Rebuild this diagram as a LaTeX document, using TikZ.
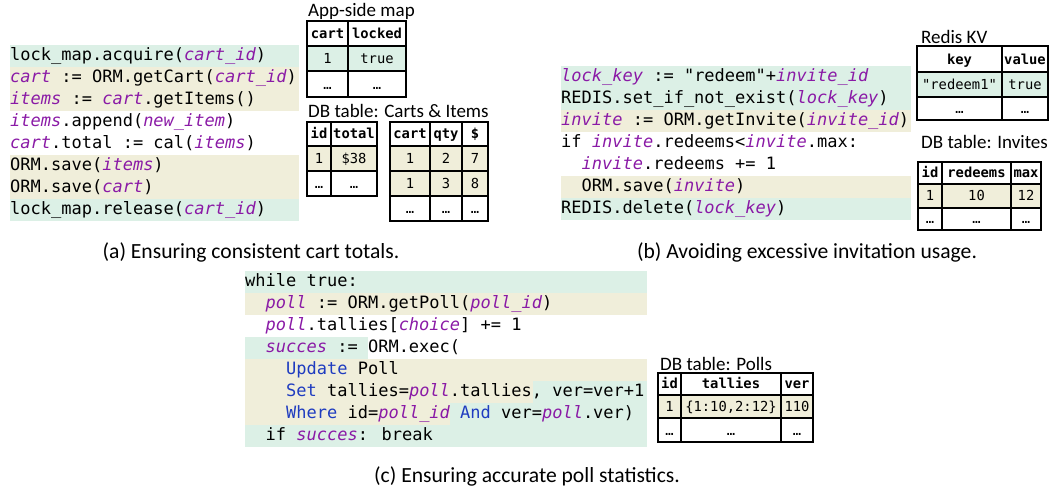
\documentclass[tikz,border=0pt]{standalone}
\usepackage{fontspec}
\usetikzlibrary{positioning}
\newfontfamily\codefam{DejaVu Sans Mono}
\newfontfamily\capfam{Carlito}
\definecolor{lockbg}{HTML}{DCF0E6}
\definecolor{ormbg}{HTML}{F0EEDA}
\definecolor{varpurple}{HTML}{8A1AA6}
\definecolor{kwblue}{HTML}{1F3CC0}
\newcommand{\cvar}[1]{{\color{varpurple}\itshape #1}}
\newcommand{\ckw}[1]{{\color{kwblue}#1}}
\newcommand{\codesize}{\codefam\fontsize{17}{22}\selectfont}
\newcommand{\cellsize}{\codefam\fontsize{13.8}{16}\selectfont}
\newcommand{\ttlsize}{\capfam\fontsize{19}{22}\selectfont}
\newcommand{\capsize}{\capfam\fontsize{21.6}{24}\selectfont}

\begin{document}
\begin{tikzpicture}[x=1pt, y=-1pt,
    code/.style={anchor=base west, inner sep=0pt, font=\codesize},
    cell/.style={anchor=base, inner sep=0pt, font=\cellsize},
    hdr/.style={anchor=base, inner sep=0pt, font=\cellsize\bfseries},
    ttl/.style={anchor=base west, inner sep=0pt, font=\ttlsize},
    captxt/.style={anchor=base, inner sep=0pt, font=\capsize},
    tbl/.style={line width=1.3pt}]
\useasboundingbox (0,0) rectangle (1055,493);

% (a) highlighted lines
\fill[lockbg] (10,45) rectangle (299,67);
\fill[ormbg] (10,67) rectangle (299,111);
\fill[ormbg] (10,155) rectangle (299,199);
\fill[lockbg] (10,199) rectangle (299,221);

% (a) code
\node[code] (a1) at (10,60) {lock\_map.acquire(\cvar{cart\_id})};
\node[code] (a2) at (10,82) {\cvar{cart} := ORM.getCart(\cvar{cart\_id})};
\node[code] (a3) at (10,104) {\cvar{items} := \cvar{cart}.getItems()};
\node[code] (a4) at (10,126) {\cvar{items}.append(\cvar{new\_item})};
\node[code] (a5) at (10,148) {\cvar{cart}.total := cal(\cvar{items})};
\node[code] (a6) at (10,170) {ORM.save(\cvar{items})};
\node[code] (a7) at (10,192) {ORM.save(\cvar{cart})};
\node[code] (a8) at (10,214) {lock\_map.release(\cvar{cart\_id})};

% (a) app-side map
\node[ttl] (mapttl) at (308,16) {App-side map};
\fill[lockbg] (307,46) rectangle (406,71);
\draw[tbl] (307,21) rectangle (406,97);
\draw[tbl] (348,21) -- (348,97) (307,46) -- (406,46) (307,71) -- (406,71);
\node[hdr] (mapk) at (327.5,38.5) {cart};
\node[hdr] (mapv) at (377,38.5) {locked};
\node[cell] (mapk1) at (327.5,63.5) {1};
\node[cell] (mapv1) at (377,63.5) {true};
\node[cell] (mapk2) at (327.5,89.5) {…};
\node[cell] (mapv2) at (377,89.5) {…};

% (a) carts & items
\node[ttl] (cartttl) at (308,117) {DB table: Carts \& Items};
\fill[ormbg] (307,146) rectangle (377,171);
\draw[tbl] (307,122) rectangle (377,196);
\draw[tbl] (331,122) -- (331,196) (307,146) -- (377,146) (307,171) -- (377,171);
\node[hdr] (cid) at (319,138.5) {id};
\node[hdr] (ctot) at (354,138.5) {total};
\node[cell] (cid1) at (319,163.5) {1};
\node[cell] (ctot1) at (354,163.5) {\$38};
\node[cell] (cid2) at (319,188.5) {…};
\node[cell] (ctot2) at (354,188.5) {…};

\fill[ormbg] (390,146) rectangle (488,196);
\draw[tbl] (390,122) rectangle (488,221);
\draw[tbl] (430,122) -- (430,221) (462,122) -- (462,221);
\draw[tbl] (390,146) -- (488,146) (390,171) -- (488,171) (390,196) -- (488,196);
\node[hdr] (icart) at (410,138.5) {cart};
\node[hdr] (iqty) at (446,138.5) {qty};
\node[hdr] (iprice) at (475,138.5) {\$};
\node[cell] (icart1) at (410,163.5) {1};
\node[cell] (iqty1) at (446,163.5) {2};
\node[cell] (iprice1) at (475,163.5) {7};
\node[cell] (icart2) at (410,188.5) {1};
\node[cell] (iqty2) at (446,188.5) {3};
\node[cell] (iprice2) at (475,188.5) {8};
\node[cell] (icart3) at (410,213.5) {…};
\node[cell] (iqty3) at (446,213.5) {…};
\node[cell] (iprice3) at (475,213.5) {…};

\node[captxt] (capa) at (251,258) {(a) Ensuring consistent cart totals.};

% (b) highlighted lines
\fill[lockbg] (561,66) rectangle (911,110);
\fill[ormbg] (561,110) rectangle (911,132);
\fill[ormbg] (561,176) rectangle (911,198);
\fill[lockbg] (561,198) rectangle (911,220);

% (b) code
\node[code] (b1) at (561,81) {\cvar{lock\_key} := "redeem"+\cvar{invite\_id}};
\node[code] (b2) at (561,103) {REDIS.set\_if\_not\_exist(\cvar{lock\_key})};
\node[code] (b3) at (561,125) {\cvar{invite} := ORM.getInvite(\cvar{invite\_id})};
\node[code] (b4) at (561,147) {if \cvar{invite}.redeems<\cvar{invite}.max:};
\node[code] (b5) at (581.5,169) {\cvar{invite}.redeems += 1};
\node[code] (b6) at (581.5,191) {ORM.save(\cvar{invite})};
\node[code] (b7) at (561,213) {REDIS.delete(\cvar{lock\_key})};

% (b) redis kv
\node[ttl] (kvttl) at (921,43) {Redis KV};
\fill[lockbg] (917,72) rectangle (1048,97);
\draw[tbl] (917,46) rectangle (1048,120);
\draw[tbl] (1002,46) -- (1002,120) (917,72) -- (1048,72) (917,97) -- (1048,97);
\node[hdr] (kvk) at (959.5,64.5) {key};
\node[hdr] (kvv) at (1025,64.5) {value};
\node[cell] (kvk1) at (959.5,89.5) {"redeem1"};
\node[cell] (kvv1) at (1025,89.5) {true};
\node[cell] (kvk2) at (959.5,113) {…};
\node[cell] (kvv2) at (1025,113) {…};

% (b) invites
\node[ttl] (invttl) at (921,148) {DB table: Invites};
\fill[ormbg] (918,184) rectangle (1041,208);
\draw[tbl] (918,162) rectangle (1041,230);
\draw[tbl] (942,162) -- (942,230) (1011,162) -- (1011,230);
\draw[tbl] (918,184) -- (1041,184) (918,208) -- (1041,208);
\node[hdr] (invid) at (930,177) {id};
\node[hdr] (invred) at (976.5,177) {redeems};
\node[hdr] (invmax) at (1026,177) {max};
\node[cell] (invid1) at (930,200.5) {1};
\node[cell] (invred1) at (976.5,200.5) {10};
\node[cell] (invmax1) at (1026,200.5) {12};
\node[cell] (invid2) at (930,223) {…};
\node[cell] (invred2) at (976.5,223) {…};
\node[cell] (invmax2) at (1026,223) {…};

\node[captxt] (capb) at (807,258) {(b) Avoiding excessive invitation usage.};

% (c) highlighted lines
\fill[lockbg] (245,271) rectangle (647,293);
\fill[ormbg] (245,293) rectangle (647,315);
\fill[lockbg] (245,337) rectangle (368,359);
\fill[ormbg] (245,359) rectangle (647,381);
\fill[ormbg] (245,381) rectangle (533,403);
\fill[lockbg] (533,381) rectangle (647,403);
\fill[ormbg] (245,403) rectangle (450,425);
\fill[lockbg] (450,403) rectangle (647,447);
\fill[lockbg] (245,425) rectangle (647,447);

% (c) code
\node[code] (c1) at (245,286) {while true:};
\node[code] (c2) at (265.5,308) {\cvar{poll} := ORM.getPoll(\cvar{poll\_id})};
\node[code] (c3) at (265.5,330) {\cvar{poll}.tallies[\cvar{choice}] += 1};
\node[code] (c4) at (265.5,352) {\cvar{succes} := ORM.exec(};
\node[code] (c5) at (286,374) {\ckw{Update} Poll};
\node[code] (c6) at (286,396) {\ckw{Set} tallies=\cvar{poll}.tallies, ver=ver+1};
\node[code] (c7) at (286,418) {\ckw{Where} id=\cvar{poll\_id} \ckw{And} ver=\cvar{poll}.ver)};
\node[code] (c8) at (265.5,440) {if \cvar{succes}: break};

% (c) polls
\node[ttl] (pollttl) at (660,370) {DB table: Polls};
\fill[ormbg] (658,395) rectangle (813,418);
\draw[tbl] (658,373) rectangle (813,442);
\draw[tbl] (681,373) -- (681,442) (781,373) -- (781,442);
\draw[tbl] (658,395) -- (813,395) (658,418) -- (813,418);
\node[hdr] (pid) at (669.5,388.5) {id};
\node[hdr] (ptal) at (731,388.5) {tallies};
\node[hdr] (pver) at (797,388.5) {ver};
\node[cell] (pid1) at (669.5,411) {1};
\node[cell] (ptal1) at (731,411) {\{1:10,2:12\}};
\node[cell] (pver1) at (797,411) {110};
\node[cell] (pid2) at (669.5,435) {…};
\node[cell] (ptal2) at (731,435) {…};
\node[cell] (pver2) at (797,435) {…};

\node[captxt] (capc) at (527,482) {(c) Ensuring accurate poll statistics.};
\end{tikzpicture}
\end{document}
